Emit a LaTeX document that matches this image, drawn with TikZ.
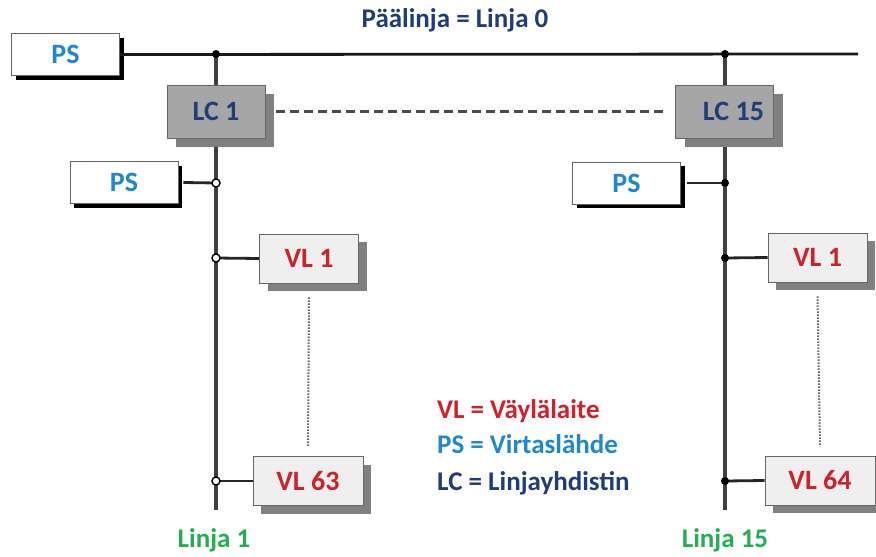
\documentclass[tikz,border=0pt]{standalone}
\usepackage{fontspec}
\setmainfont{Carlito}
\usetikzlibrary{shadows}
\definecolor{dblue}{HTML}{1F3D7A}
\definecolor{pblue}{HTML}{1E88D2}
\definecolor{vred}{HTML}{D0202A}
\definecolor{lgreen}{HTML}{22B04E}
\definecolor{lcfill}{HTML}{A6A6A6}
\definecolor{vlfill}{HTML}{EFEFEF}
\begin{document}
\begin{tikzpicture}[x=1pt,y=-1pt,
  box/.style={draw=gray!80!black, line width=0.9pt, inner sep=0pt, font=\bfseries\fontsize{28}{28}\selectfont},
  psbox/.style={box, fill=white, text=pblue, minimum width=108pt, minimum height=42pt,
    drop shadow={shadow xshift=4pt, shadow yshift=-4pt, fill=black, opacity=1}},
  lcbox/.style={box, fill=lcfill, text=dblue, minimum width=98pt, minimum height=53pt,
    drop shadow={shadow xshift=9pt, shadow yshift=-9pt, fill=gray, opacity=1}},
  vlbox/.style={box, fill=vlfill, text=vred, minimum height=49pt,
    drop shadow={shadow xshift=8pt, shadow yshift=-8pt, fill=gray, opacity=1}},
  bus/.style={line width=3.2pt, draw=black!75},
  mainbus/.style={line width=2.8pt, draw=black!90},
  stub/.style={line width=2.8pt, draw=black!85},
  odot/.style={circle, draw=black, fill=white, line width=1.4pt, inner sep=0pt, minimum size=8pt},
  fdot/.style={circle, fill=black, inner sep=0pt, minimum size=8pt},
  legend/.style={anchor=west, inner sep=0pt, font=\bfseries\fontsize{27}{27}\selectfont},
  lbl/.style={inner sep=0pt, font=\bfseries\fontsize{27}{27}\selectfont}
]
\useasboundingbox (0,0) rectangle (876,557);
\clip (0,0) rectangle (876,557);
% coordinates
\coordinate (jt1) at (216,54);
\coordinate (jt15) at (725,54);
\coordinate (jb1) at (216,510);
\coordinate (jb15) at (725,510);
\coordinate (mend) at (858,54);
\coordinate (jp1) at (216,183);
\coordinate (jp15) at (725,183);
\coordinate (jv1) at (216,258);
\coordinate (jv15) at (725,258);
\coordinate (jw1) at (216,481);
\coordinate (jw15) at (725,481);
% vertical buses
\draw[bus] (jt1) -- (jb1);
\draw[bus] (jt15) -- (jb15);
% nodes
\node[lbl, text=dblue] (title) at (455,20) {Päälinja = Linja 0};
\node[psbox] (psT) at (65.5,54.5) {PS};
\node[lcbox] (lc1) at (216,111.5) {LC 1};
\node[lcbox] (lc15) at (724.5,111.5) {\hspace*{18pt}LC 15};
\node[psbox] (psL) at (124,182.5) {PS};
\node[psbox] (psR) at (626.5,183) {PS};
\node[vlbox, minimum width=99pt] (vl1L) at (309,258.5) {VL 1};
\node[vlbox, minimum width=99pt] (vl1R) at (817.5,257.5) {VL 1};
\node[vlbox, minimum width=110pt] (vl63) at (308,481) {VL 63};
\node[vlbox, minimum width=110pt] (vl64) at (820,480.5) {VL 64};
\node[lbl, text=lgreen] (l1) at (214,540) {Linja 1};
\node[lbl, text=lgreen] (l15) at (725,540) {Linja 15};
\node[legend, text=vred] (lg1) at (437,411) {VL = Väylälaite};
\node[legend, text=pblue] (lg2) at (437,444) {PS = Virtaslähde};
\node[legend, text=dblue] (lg3) at (437,483) {LC = Linjayhdistin};
% main bus
\draw[mainbus] (psT.east) -- (mend);
% stubs
\draw[stub] ([xshift=5pt]psL.east) -- (jp1);
\draw[stub] ([xshift=6pt]psR.east) -- (jp15);
\draw[stub] (jv1) -- (vl1L.west);
\draw[stub] (jv15) -- (vl1R.west);
\draw[stub] (jw1) -- (vl63.west);
\draw[stub] (jw15) -- (vl64.west);
% dashed & dotted
\draw[line width=2.5pt, draw=black!70, dash pattern=on 9pt off 5pt] ([xshift=11pt]lc1.east) -- ([xshift=-10pt]lc15.west);
\draw[line width=2pt, draw=black!60, dash pattern=on 1.5pt off 1.5pt] ([yshift=-14pt]vl1L.south) -- ([yshift=9pt]vl63.north);
\draw[line width=2pt, draw=black!60, dash pattern=on 1.5pt off 1.5pt] ([yshift=-14pt]vl1R.south) -- ([yshift=9pt]vl64.north);
% junction dots
\node[fdot] (d1) at (jt1) {};
\node[fdot] (d2) at (jt15) {};
\node[odot] (d3) at (jp1) {};
\node[fdot] (d4) at (jp15) {};
\node[odot] (d5) at (jv1) {};
\node[fdot] (d6) at (jv15) {};
\node[odot] (d7) at (jw1) {};
\node[fdot] (d8) at (jw15) {};
\end{tikzpicture}
\end{document}
